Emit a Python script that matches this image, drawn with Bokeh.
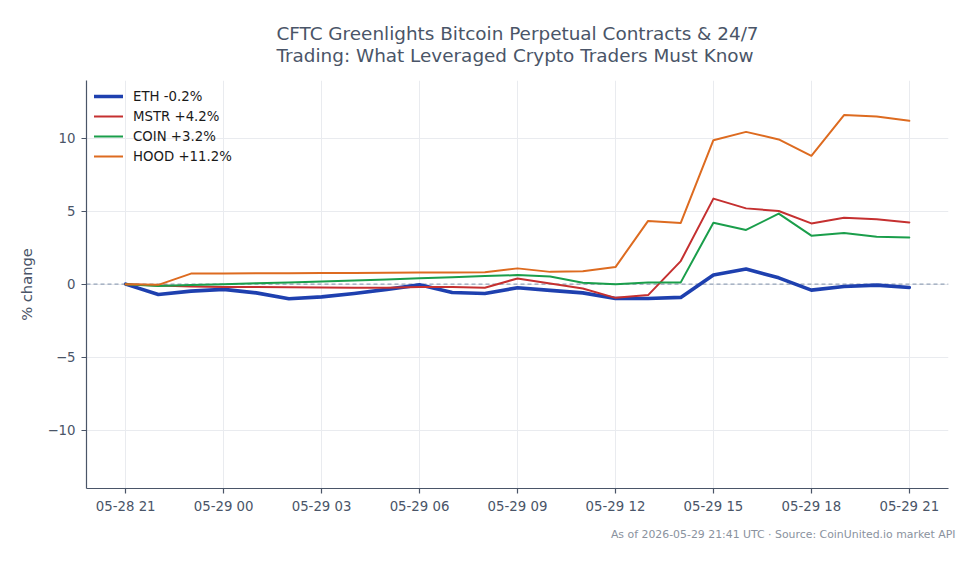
import pandas as pd
from bokeh.plotting import figure
from bokeh.models import (Range1d, FixedTicker, DatetimeTickFormatter, Span, Title,
                          Legend, LegendItem)
from bokeh.embed import file_html
from bokeh.resources import INLINE

# ---- data -------------------------------------------------------------
hours = pd.date_range("2026-05-28 21:00", periods=25, freq="h")

eth = [0.00, -0.71, -0.48, -0.36, -0.60, -1.00, -0.87, -0.64, -0.36, -0.05,
       -0.57, -0.64, -0.25, -0.43, -0.60, -0.98, -0.98, -0.91, 0.62, 1.03,
       0.43, -0.41, -0.16, -0.07, -0.23]
mstr = [0.00, -0.10, -0.16, -0.19, -0.20, -0.22, -0.23, -0.24, -0.24, -0.20,
        -0.20, -0.25, 0.39, 0.05, -0.30, -0.94, -0.75, 1.58, 5.86, 5.19,
        5.01, 4.16, 4.55, 4.44, 4.23]
coin = [0.00, -0.12, -0.06, 0.00, 0.06, 0.12, 0.18, 0.25, 0.32, 0.40,
        0.48, 0.55, 0.62, 0.53, 0.09, 0.00, 0.12, 0.12, 4.21, 3.71,
        4.83, 3.32, 3.50, 3.25, 3.20]
hood = [0.00, -0.05, 0.72, 0.73, 0.74, 0.75, 0.76, 0.77, 0.78, 0.79,
        0.80, 0.82, 1.08, 0.84, 0.89, 1.17, 4.33, 4.19, 9.86, 10.43,
        9.91, 8.79, 11.58, 11.49, 11.19]

series_names = ["ETH -0.2%", "MSTR +4.2%", "COIN +3.2%", "HOOD +11.2%"]
series_values = [eth, mstr, coin, hood]
series_colors = ["#1e40af", "#c53030", "#1a9e4b", "#dd6b20"]
series_widths = [3.6, 2.0, 2.0, 2.0]

y_ticks = [-10, -5, 0, 5, 10]
y_tick_labels = ["\u221210", "\u22125", "0", "5", "10"]

title_lines = ["CFTC Greenlights Bitcoin Perpetual Contracts & 24/7",
               "Trading: What Leveraged Crypto Traders Must Know"]
footer = "As of 2026-05-29 21:41 UTC \u00b7 Source: CoinUnited.io market API"

# ---- figure -----------------------------------------------------------
TEXT = "#4a5568"
FONT = "DejaVu Sans"

p = figure(width=979, height=564, x_axis_type="datetime",
           output_backend="svg", toolbar_location=None,
           x_range=Range1d(pd.Timestamp("2026-05-28 19:48"), pd.Timestamp("2026-05-29 22:12")),
           y_range=Range1d(-14.0, 13.95),
           min_border_left=86, min_border_right=31,
           min_border_top=80, min_border_bottom=76)
p.title.visible = False
p.outline_line_color = None
p.background_fill_color = "white"
p.border_fill_color = "white"

# grid
p.xgrid.grid_line_color = "#e9ebef"
p.ygrid.grid_line_color = "#e9ebef"
p.xgrid.grid_line_width = 1
p.ygrid.grid_line_width = 1

# x axis
x_tick_ms = [int(t.value // 10**6) for t in hours[::3]]
p.xaxis.ticker = FixedTicker(ticks=x_tick_ms)
fmt = "%m-%d %H"
p.xaxis.formatter = DatetimeTickFormatter(
    hours=fmt, hourmin=fmt, days=fmt, minutes=fmt, minsec=fmt,
    seconds=fmt, months=fmt, years=fmt, strip_leading_zeros=False)
p.xgrid.ticker = p.xaxis.ticker

# y axis
p.yaxis.ticker = FixedTicker(ticks=y_ticks)
p.yaxis.major_label_overrides = {t: l for t, l in zip(y_ticks, y_tick_labels)}
p.yaxis.axis_label = "% change"
p.yaxis.axis_label_text_font_size = "14.7px"
p.yaxis.axis_label_text_font_style = "normal"
p.yaxis.axis_label_text_color = TEXT
p.yaxis.axis_label_text_font = FONT
p.yaxis.axis_label_standoff = 9

for ax in (p.xaxis, p.yaxis):
    ax.axis_line_color = TEXT
    ax.axis_line_width = 1.2
    ax.major_tick_line_color = TEXT
    ax.major_tick_line_width = 1.2
    ax.major_tick_out = 5
    ax.major_tick_in = 0
    ax.minor_tick_line_color = None
    ax.major_label_text_font_size = "13.3px"
    ax.major_label_text_color = TEXT
    ax.major_label_text_font = FONT
p.xaxis.major_label_standoff = 5
p.yaxis.major_label_standoff = 6

# zero line
p.add_layout(Span(location=0, dimension="width", line_color="#94a3b8",
                  line_dash="4 3", line_width=1.1, level="underlay"))

# lines
items = []
for name, vals, col, w in zip(series_names, series_values, series_colors, series_widths):
    r = p.line(hours, vals, line_color=col, line_width=w,
               line_join="round", line_cap="round")
    items.append(LegendItem(label=name, renderers=[r]))

legend = Legend(items=items, location="top_left",
                border_line_color=None, background_fill_alpha=0,
                label_text_font_size="13.3px", label_text_color="#1a1a1a",
                label_text_font=FONT,
                glyph_width=29, glyph_height=16, label_height=16,
                label_standoff=10, spacing=4, padding=4, margin=8)
p.add_layout(legend)

# two-line title and footer
p.add_layout(Title(text="\n".join(title_lines), align="center", text_font_size="18.4px",
                   text_font_style="normal", text_color=TEXT, text_font=FONT,
                   text_line_height=1.05, standoff=28), "above")
p.add_layout(Title(text=footer, align="right", text_font_size="10.9px",
                   text_font_style="normal", text_color="#8a929e", text_font=FONT,
                   offset=-7, standoff=18), "below")

open("out.html", "w").write(file_html(p, INLINE))
